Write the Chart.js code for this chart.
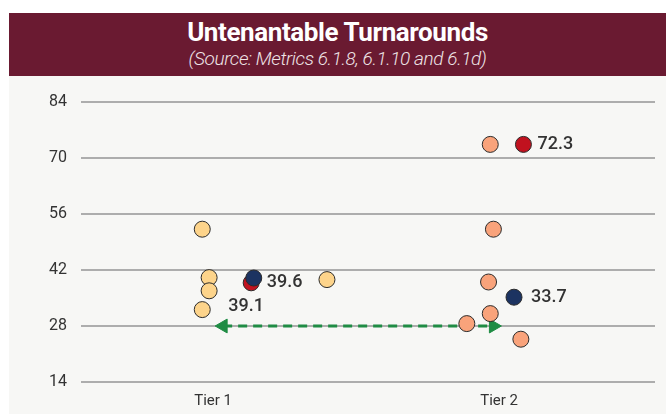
<!DOCTYPE html>
<html>
<head>
<meta charset="utf-8">
<script src="https://cdn.jsdelivr.net/npm/chart.js@4.4.1/dist/chart.umd.min.js"></script>
<style>
  body { margin: 0; background: #fff; font-family: Roboto, sans-serif; }
  .header {
    position: absolute; left: 9px; top: 13px; width: 657px; height: 63px;
    background: #6a1a31; color: #fff; text-align: center;
  }
  .header h1 { margin: 0; padding-top: 5px; font-size: 26px; font-weight: 700; line-height: 28px; letter-spacing: -0.4px; }
  .header p { margin: 0; padding-top: 2px; font-size: 19px; font-style: italic; font-weight: 300; line-height: 22px; color: #eee3e6; letter-spacing: -0.4px; }
  .plot { position: absolute; left: 9px; top: 76px; width: 657px; height: 338px; background: #f7f7f5; }
</style>
</head>
<body>
<div class="header">
  <h1>Untenantable Turnarounds</h1>
  <p>(Source: Metrics 6.1.8, 6.1.10 and 6.1d)</p>
</div>
<div class="plot"><canvas id="chart" width="657" height="338"></canvas></div>
<script>
// tier positions on the x axis and their labels
const tierNames = ['Tier 1', 'Tier 2'];
const yTicks = [14, 28, 42, 56, 70, 84];

// individual points, x is the tier with a little jitter
const tier1X = [0.962, 0.986, 0.986, 0.962, 1.398];
const tier1Y = [52.2, 40.1, 36.8, 32.1, 39.6];
const tier2X = [1.969, 1.980, 1.963, 1.969, 1.887, 2.076];
const tier2Y = [73.4, 52.2, 39.0, 31.1, 28.6, 24.7];

// highlighted points (navy / red) with their labels
const navyX = [1.142, 2.052];
const navyY = [40.0, 35.2];
const navyLabels = ['39.6', '33.7'];
const redX = [1.133, 2.085];
const redY = [38.8, 73.4];
const redLabels = ['39.1', '72.3'];

// green gap arrow between the tiers
const arrowX = [1.035, 1.98];
const arrowY = [28, 28];

const pts = (xs, ys) => xs.map((x, i) => ({ x: x, y: ys[i] }));

// value labels next to the highlighted points
const pointLabels = {
  id: 'pointLabels',
  afterDatasetsDraw(chart) {
    const ctx = chart.ctx;
    ctx.save();
    ctx.font = '500 18px Roboto';
    ctx.fillStyle = '#333';
    ctx.textBaseline = 'middle';
    chart.data.datasets.forEach((ds, di) => {
      if (!ds.valueLabels) return;
      const meta = chart.getDatasetMeta(di);
      meta.data.forEach((el, i) => {
        const off = ds.labelOffsets[i];
        ctx.fillText(ds.valueLabels[i], el.x + off[0], el.y + off[1]);
      });
    });
    ctx.restore();
  }
};

const circle = {
  pointStyle: 'circle', pointRadius: 8, pointHoverRadius: 8,
  pointBorderWidth: 1, pointBorderColor: '#2b2b2b'
};

new Chart(document.getElementById('chart'), {
  type: 'scatter',
  data: {
    datasets: [
      {
        ...circle, data: pts(navyX, navyY),
        pointBackgroundColor: '#1c3361',
        valueLabels: navyLabels, labelOffsets: [[13, 4], [17, 0]]
      },
      {
        ...circle, data: pts(redX, redY),
        pointBackgroundColor: '#c1121f',
        valueLabels: redLabels, labelOffsets: [[-23, 24], [14, 0]]
      },
      { ...circle, data: pts(tier1X, tier1Y), pointBackgroundColor: '#fdd48b' },
      { ...circle, data: pts(tier2X, tier2Y), pointBackgroundColor: '#f9a37b' },
      {
        type: 'line', order: 10,
        data: pts(arrowX, arrowY),
        borderColor: '#1f8c44', borderWidth: 3, borderDash: [9, 6],
        pointStyle: 'triangle', pointRadius: 8, pointHoverRadius: 8,
        pointRotation: [-90, 90],
        pointBackgroundColor: '#1f8c44', pointBorderColor: '#1f8c44', pointBorderWidth: 1
      }
    ]
  },
  options: {
    responsive: false,
    animation: false,
    events: [],
    layout: { padding: { top: 26, right: 11, bottom: 0, left: 0 } },
    plugins: { legend: { display: false }, tooltip: { enabled: false } },
    scales: {
      x: {
        type: 'linear', min: 0.538, max: 2.545,
        afterBuildTicks: (axis) => { axis.ticks = [{ value: 1 }, { value: 2 }]; },
        afterFit: (axis) => { axis.height = 32; },
        grid: { display: false },
        border: { display: false },
        ticks: {
          color: '#333', font: { family: 'Roboto', size: 15 }, padding: 2,
          callback: (v) => tierNames[v - 1]
        }
      },
      y: {
        min: 14, max: 84,
        afterBuildTicks: (axis) => { axis.ticks = yTicks.map(v => ({ value: v })); },
        afterFit: (axis) => { axis.width = 72; },
        grid: { color: '#adadad', lineWidth: 2, drawTicks: false },
        border: { display: false },
        ticks: { color: '#333', font: { family: 'Roboto', size: 16 }, padding: 14 }
      }
    }
  },
  plugins: [pointLabels]
});
</script>
</body>
</html>
